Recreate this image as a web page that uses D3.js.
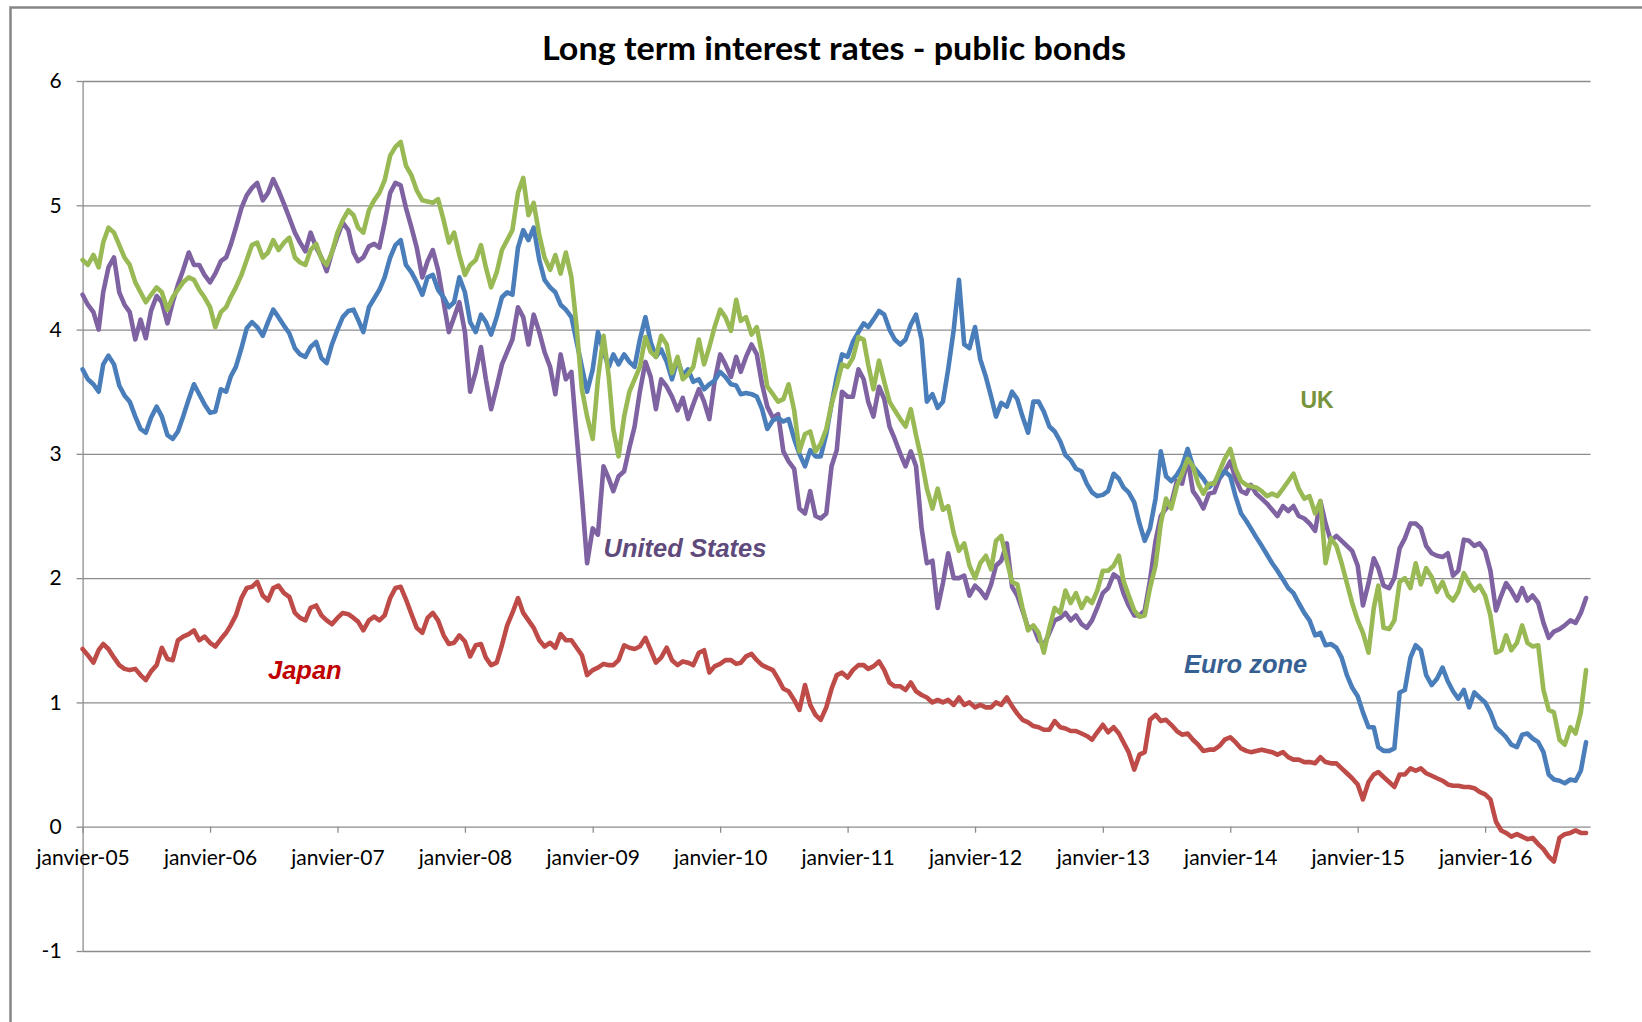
<!DOCTYPE html>
<html>
<head>
<meta charset="utf-8">
<script src="https://cdn.jsdelivr.net/npm/d3@7"></script>
<style>
  html, body { margin: 0; padding: 0; background: #ffffff; }
  svg { display: block; }
</style>
</head>
<body>
<svg id="chart" width="1642" height="1022"></svg>
<script>
// Long-term (10y) government bond yields, semi-monthly observations
// (1st and 16th of each month) from January 2005 to October 2016, in %.

const tickLabels = ["janvier-05", "janvier-06", "janvier-07", "janvier-08", "janvier-09", "janvier-10",
                    "janvier-11", "janvier-12", "janvier-13", "janvier-14", "janvier-15", "janvier-16"];
const tickYears = [2005, 2006, 2007, 2008, 2009, 2010, 2011, 2012, 2013, 2014, 2015, 2016];
const yTicks = [-1, 0, 1, 2, 3, 4, 5, 6];

const euroZone = [
  3.68,3.60,3.56,3.50,3.72,3.79,3.72,3.55,3.47,3.42,3.30,3.20,3.17,3.29,3.38,3.30,3.15,3.12,3.18,3.30,
  3.44,3.56,3.48,3.40,3.33,3.34,3.52,3.50,3.62,3.70,3.85,4.01,4.06,4.02,3.95,4.06,4.16,4.10,4.03,3.97,
  3.85,3.80,3.78,3.86,3.90,3.77,3.73,3.88,4.00,4.10,4.15,4.16,4.08,3.98,4.18,4.25,4.32,4.42,
  4.58,4.68,4.72,4.52,4.46,4.38,4.28,4.42,4.44,4.32,4.26,4.18,4.22,4.42,4.30,4.06,3.98,4.12,4.06,3.96,
  4.10,4.26,4.30,4.28,4.66,4.80,4.72,4.82,4.56,4.40,4.34,4.30,4.20,4.16,4.10,3.90,3.70,3.50,3.68,3.98,
  3.82,3.70,3.80,3.72,3.80,3.74,3.70,3.92,4.10,3.90,3.78,3.84,3.74,3.60,3.76,3.63,3.68,
  3.58,3.60,3.52,3.56,3.59,3.66,3.62,3.56,3.55,3.48,3.49,3.48,3.46,3.36,3.20,3.27,3.29,3.26,3.28,3.12,
  3.00,2.90,3.03,2.98,2.98,3.16,3.40,3.62,3.80,3.78,3.90,3.98,4.05,4.02,4.08,4.15,4.12,4.00,3.92,3.88,
  3.92,4.04,4.12,3.92,3.42,3.48,3.37,3.42,3.68,4.00,4.40,3.88,3.85,4.02,3.76,3.62,3.46,3.30,
  3.41,3.38,3.50,3.44,3.30,3.17,3.42,3.42,3.34,3.22,3.18,3.10,2.99,2.95,2.88,2.86,2.76,2.69,2.66,2.67,
  2.70,2.84,2.80,2.73,2.69,2.61,2.44,2.30,2.40,2.64,3.02,2.82,2.78,2.83,2.90,3.04,2.90,2.85,2.80,2.73,
  2.77,2.81,2.86,2.82,2.66,2.52,2.46,2.40,2.33,2.26,2.19,2.12,2.06,1.99,1.92,1.88,1.80,1.72,
  1.66,1.54,1.56,1.46,1.47,1.44,1.36,1.22,1.12,1.05,0.92,0.80,0.80,0.64,0.61,0.61,0.63,1.08,1.10,1.36,
  1.46,1.42,1.22,1.14,1.19,1.28,1.17,1.09,1.03,1.10,0.96,1.08,1.04,1.00,0.92,0.80,0.76,0.72,0.66,0.64,
  0.74,0.75,0.71,0.68,0.60,0.42,0.38,0.37,0.35,0.38,0.37,0.45,0.68
];

const unitedStates = [
  4.28,4.20,4.14,4.00,4.30,4.50,4.58,4.30,4.20,4.14,3.92,4.08,3.93,4.15,4.27,4.22,4.05,4.22,4.36,4.48,
  4.62,4.52,4.52,4.44,4.38,4.45,4.55,4.58,4.68,4.82,4.98,5.08,5.14,5.18,5.04,5.10,5.21,5.12,5.01,4.90,
  4.78,4.70,4.63,4.78,4.66,4.58,4.47,4.62,4.75,4.86,4.80,4.62,4.55,4.58,4.67,4.69,4.66,4.86,
  5.10,5.18,5.16,4.98,4.82,4.66,4.42,4.55,4.64,4.48,4.22,3.98,4.10,4.22,3.98,3.50,3.66,3.86,3.60,3.36,
  3.54,3.72,3.82,3.92,4.18,4.10,3.88,4.12,3.98,3.82,3.70,3.48,3.80,3.60,3.66,3.15,2.66,2.12,2.40,2.35,
  2.90,2.80,2.70,2.82,2.86,3.05,3.22,3.50,3.74,3.62,3.36,3.60,3.54,3.46,3.35,3.45,3.28,
  3.40,3.52,3.42,3.28,3.58,3.80,3.72,3.62,3.78,3.66,3.78,3.88,3.80,3.56,3.38,3.29,3.32,3.02,2.94,2.88,
  2.56,2.52,2.70,2.50,2.48,2.52,2.90,3.03,3.50,3.46,3.46,3.68,3.60,3.42,3.30,3.54,3.44,3.22,3.12,3.00,
  2.90,3.02,2.90,2.40,2.12,2.14,1.76,1.96,2.20,2.00,2.00,2.02,1.86,1.94,1.90,1.84,1.95,2.10,
  2.14,2.28,1.93,1.86,1.74,1.60,1.61,1.50,1.46,1.56,1.66,1.68,1.72,1.66,1.70,1.63,1.60,1.66,1.76,1.88,
  1.92,2.03,2.00,1.88,1.78,1.70,1.70,1.74,1.98,2.30,2.50,2.56,2.60,2.78,2.76,2.96,2.70,2.64,2.56,2.68,
  2.69,2.80,2.86,2.94,2.80,2.70,2.68,2.75,2.68,2.64,2.60,2.55,2.50,2.58,2.54,2.58,2.50,2.48,
  2.44,2.38,2.62,2.44,2.30,2.34,2.30,2.26,2.22,2.10,1.78,1.96,2.16,2.08,1.94,1.92,2.00,2.24,2.32,2.44,
  2.44,2.40,2.26,2.20,2.18,2.17,2.20,2.02,2.06,2.31,2.30,2.26,2.28,2.22,2.06,1.74,1.86,1.96,1.90,1.82,
  1.92,1.82,1.86,1.80,1.64,1.52,1.57,1.59,1.62,1.66,1.64,1.72,1.84
];

const unitedKingdom = [
  4.56,4.52,4.60,4.50,4.70,4.82,4.78,4.68,4.58,4.52,4.38,4.30,4.22,4.28,4.34,4.30,4.16,4.26,4.32,4.38,
  4.42,4.40,4.32,4.26,4.18,4.02,4.14,4.18,4.26,4.34,4.44,4.56,4.68,4.70,4.58,4.62,4.72,4.64,4.70,4.74,
  4.58,4.54,4.52,4.64,4.69,4.57,4.52,4.62,4.78,4.88,4.96,4.92,4.82,4.78,4.96,5.04,5.10,5.20,
  5.40,5.47,5.51,5.32,5.24,5.12,5.04,5.03,5.02,5.05,4.88,4.70,4.78,4.60,4.44,4.52,4.56,4.68,4.50,4.34,
  4.46,4.64,4.72,4.80,5.10,5.22,4.92,5.02,4.76,4.58,4.48,4.60,4.45,4.62,4.42,4.02,3.52,3.30,3.12,3.60,
  3.95,3.62,3.20,2.98,3.30,3.50,3.60,3.70,3.94,3.82,3.78,3.95,3.88,3.65,3.78,3.60,3.64,
  3.70,3.92,3.72,3.86,4.02,4.16,4.10,3.99,4.24,4.07,4.10,3.96,4.02,3.80,3.54,3.48,3.42,3.44,3.56,3.35,
  3.02,3.16,3.18,3.02,3.08,3.20,3.40,3.55,3.72,3.70,3.77,3.94,3.92,3.72,3.52,3.75,3.58,3.42,3.35,3.28,
  3.22,3.36,3.15,2.95,2.72,2.56,2.72,2.55,2.58,2.36,2.22,2.28,2.10,2.00,2.12,2.18,2.07,2.30,
  2.34,2.14,1.97,1.95,1.76,1.58,1.62,1.56,1.40,1.60,1.76,1.72,1.90,1.80,1.88,1.76,1.84,1.80,1.90,2.06,
  2.06,2.10,2.18,1.98,1.86,1.74,1.69,1.70,1.92,2.10,2.44,2.64,2.56,2.74,2.84,2.96,2.90,2.76,2.68,2.76,
  2.76,2.86,2.96,3.04,2.88,2.78,2.75,2.74,2.73,2.70,2.66,2.68,2.66,2.72,2.78,2.84,2.72,2.64,
  2.66,2.52,2.62,2.12,2.32,2.26,2.12,1.96,1.80,1.66,1.56,1.40,1.76,1.94,1.60,1.59,1.66,1.97,2.00,1.92,
  2.12,1.95,2.08,2.01,1.89,1.97,1.86,1.82,1.89,2.04,1.96,1.90,1.94,1.86,1.70,1.40,1.42,1.54,1.42,1.48,
  1.62,1.48,1.45,1.46,1.10,0.94,0.92,0.70,0.66,0.80,0.75,0.92,1.26
];

const japan = [
  1.43,1.38,1.32,1.42,1.47,1.43,1.36,1.30,1.27,1.26,1.27,1.22,1.18,1.25,1.30,1.44,1.35,1.34,1.50,1.53,
  1.55,1.58,1.50,1.53,1.48,1.45,1.51,1.56,1.62,1.70,1.84,1.92,1.93,1.97,1.86,1.82,1.92,1.94,1.88,1.85,
  1.72,1.68,1.66,1.76,1.78,1.70,1.66,1.63,1.68,1.72,1.71,1.68,1.65,1.58,1.66,1.69,1.66,1.70,
  1.84,1.92,1.93,1.83,1.71,1.60,1.56,1.68,1.72,1.66,1.54,1.47,1.48,1.54,1.49,1.37,1.46,1.47,1.36,1.30,
  1.32,1.46,1.62,1.72,1.84,1.72,1.66,1.60,1.50,1.45,1.48,1.44,1.55,1.50,1.50,1.44,1.38,1.22,1.26,1.28,
  1.31,1.30,1.30,1.34,1.46,1.44,1.43,1.45,1.52,1.42,1.32,1.36,1.44,1.34,1.30,1.33,1.32,
  1.30,1.40,1.42,1.24,1.29,1.31,1.34,1.34,1.31,1.32,1.37,1.39,1.34,1.30,1.28,1.26,1.19,1.11,1.09,1.02,
  0.94,1.14,0.98,0.90,0.86,0.96,1.11,1.22,1.24,1.20,1.26,1.30,1.30,1.27,1.29,1.33,1.26,1.16,1.13,1.13,
  1.10,1.16,1.09,1.06,1.04,1.00,1.02,1.00,1.02,0.98,1.04,0.98,1.00,0.96,0.98,0.96,0.96,1.00,
  0.98,1.04,0.97,0.91,0.86,0.84,0.81,0.80,0.78,0.78,0.85,0.80,0.79,0.77,0.77,0.75,0.73,0.70,0.76,0.82,
  0.76,0.80,0.75,0.68,0.60,0.46,0.58,0.60,0.86,0.90,0.85,0.86,0.82,0.77,0.74,0.75,0.70,0.66,0.61,0.62,
  0.62,0.65,0.70,0.72,0.68,0.63,0.61,0.60,0.61,0.62,0.61,0.60,0.58,0.60,0.56,0.54,0.54,0.52,
  0.52,0.51,0.56,0.52,0.51,0.51,0.47,0.43,0.39,0.34,0.22,0.36,0.42,0.44,0.40,0.36,0.32,0.42,0.42,0.47,
  0.45,0.47,0.43,0.41,0.39,0.37,0.34,0.33,0.33,0.32,0.32,0.31,0.28,0.26,0.22,0.04,-0.03,-0.05,-0.08,-0.06,
  -0.08,-0.10,-0.09,-0.14,-0.18,-0.24,-0.28,-0.09,-0.06,-0.05,-0.03,-0.05,-0.05
];

// Observation dates: the 1st and the 16th of every month from January 2005
const dates = d3.range(euroZone.length).map(i => new Date(2005, Math.floor(i / 2), i % 2 ? 16 : 1));

const series = [
  { name: "United States", values: unitedStates,  color: "#7e62a1" },
  { name: "Euro zone",     values: euroZone,      color: "#4a7ebb" },
  { name: "UK",            values: unitedKingdom, color: "#98b954" },
  { name: "Japan",         values: japan,         color: "#be4b48" }
];

const svg = d3.select("#chart");
const plot = { left: 82.6, right: 1590.6, top: 81, bottom: 951 };
const labelFont = "Lato, 'Open Sans', sans-serif";

const x = d3.scaleTime()
  .domain([new Date(2005, 0, 1), new Date(2016, 9, 29)])
  .range([plot.left, plot.right]);
const y = d3.scaleLinear()
  .domain([-1, 6])
  .range([plot.bottom, plot.top]);

// Outer frame of the chart area
svg.append("rect")
  .attr("x", 10.5).attr("y", 7.5)
  .attr("width", 1700).attr("height", 1100)
  .attr("fill", "#ffffff")
  .attr("stroke", "#868686")
  .attr("stroke-width", 2.5);

// Title
svg.append("text")
  .attr("x", 834).attr("y", 60)
  .attr("text-anchor", "middle")
  .attr("font-family", labelFont)
  .attr("font-weight", "bold")
  .attr("font-size", 32)
  .attr("textLength", 584)
  .attr("lengthAdjust", "spacingAndGlyphs")
  .attr("fill", "#000000")
  .text("Long term interest rates - public bonds");

// Horizontal gridlines
svg.append("g")
  .attr("transform", `translate(${plot.left},0)`)
  .call(d3.axisLeft(y).tickValues(yTicks).tickSize(-(plot.right - plot.left)).tickFormat(""))
  .call(g => g.select(".domain").remove())
  .call(g => g.selectAll("line").attr("stroke", "#8c8c8c").attr("stroke-width", 1.3));

// Vertical value axis with tick marks and labels
svg.append("g")
  .attr("transform", `translate(${plot.left},0)`)
  .call(d3.axisLeft(y).tickValues(yTicks).tickSize(6).tickSizeOuter(0).tickPadding(15)
    .tickFormat(d => String(d)))
  .call(g => g.select(".domain").attr("stroke", "#8c8c8c").attr("stroke-width", 1.3))
  .call(g => g.selectAll("line").attr("stroke", "#8c8c8c").attr("stroke-width", 1.3))
  .call(g => g.selectAll("text")
    .attr("font-family", labelFont)
    .attr("font-size", 21)
    .attr("fill", "#000000"));

// Time axis crossing at 0
const janDates = tickYears.map(yr => new Date(yr, 0, 1));
svg.append("g")
  .attr("transform", `translate(0,${y(0)})`)
  .call(d3.axisBottom(x).tickValues(janDates).tickSize(6).tickSizeOuter(0)
    .tickFormat((d, i) => tickLabels[i]))
  .call(g => g.select(".domain").remove())
  .call(g => g.selectAll("line").attr("stroke", "#8c8c8c").attr("stroke-width", 1.3))
  .call(g => g.selectAll("text")
    .attr("dy", null)
    .attr("y", 38)
    .attr("font-family", labelFont)
    .attr("font-size", 21)
    .attr("fill", "#000000"));

// Series lines
const line = d3.line()
  .x((d, i) => x(dates[i]))
  .y(d => y(d));

svg.append("g")
  .selectAll("path")
  .data(series)
  .join("path")
  .attr("d", s => line(s.values))
  .attr("fill", "none")
  .attr("stroke", s => s.color)
  .attr("stroke-width", 4.6)
  .attr("stroke-linejoin", "round")
  .attr("stroke-linecap", "round");

// In-chart series labels
const labels = [
  { text: "United States", x: 603.5, y: 557, color: "#5f4a7c", italic: true,  size: 25.5 },
  { text: "Japan",         x: 268,   y: 679, color: "#c00000", italic: true,  size: 25.5 },
  { text: "Euro zone",     x: 1184,  y: 673, color: "#376092", italic: true,  size: 25.5 },
  { text: "UK",            x: 1300.5,y: 408, color: "#77933c", italic: false, size: 23 }
];
svg.append("g")
  .selectAll("text")
  .data(labels)
  .join("text")
  .attr("x", d => d.x)
  .attr("y", d => d.y)
  .attr("font-family", "'Liberation Sans', Arial, sans-serif")
  .attr("font-size", d => d.size)
  .attr("font-weight", "bold")
  .attr("font-style", d => d.italic ? "italic" : "normal")
  .attr("fill", d => d.color)
  .text(d => d.text);
</script>
</body>
</html>
